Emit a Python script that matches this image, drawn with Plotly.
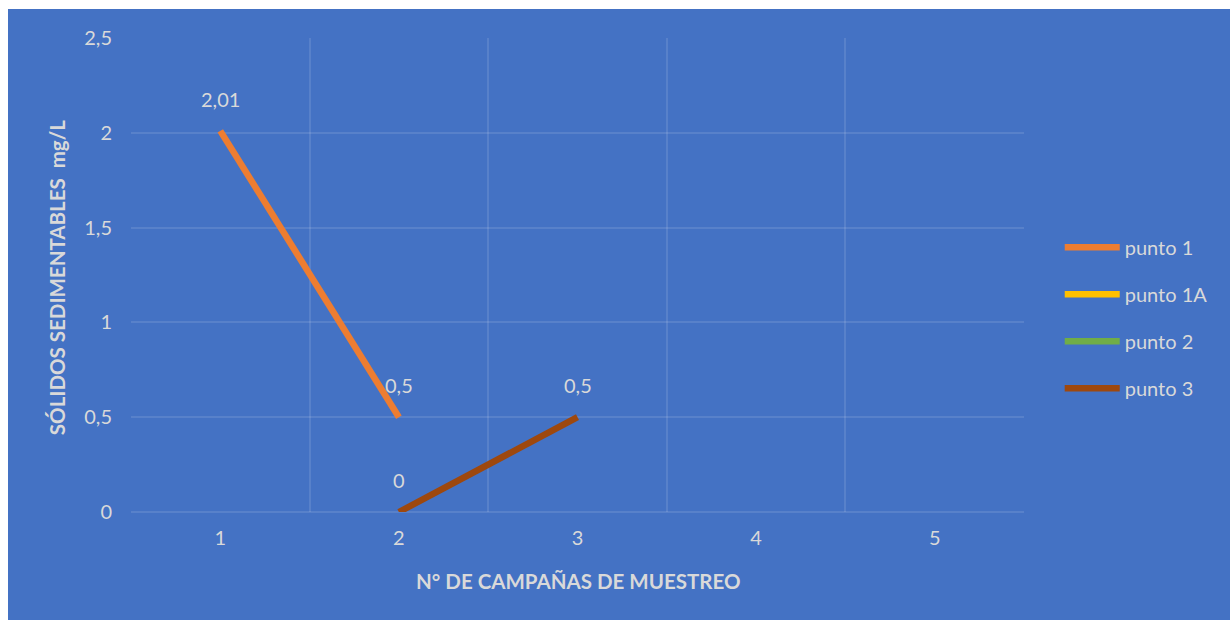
import plotly.graph_objects as go

campaigns = [1, 2, 3, 4, 5]
tick_labels = ["1", "2", "3", "4", "5"]
punto_1 = [2.01, 0.5, None, None, None]
punto_1A = [None, None, None, None, None]
punto_2 = [None, None, None, None, None]
punto_3 = [None, 0, 0.5, None, None]
y_ticks = [0, 0.5, 1, 1.5, 2, 2.5]
y_tick_labels = ["0", "0,5", "1", "1,5", "2", "2,5"]

series = [
    ("punto 1", punto_1, "#ED7D31"),
    ("punto 1A", punto_1A, "#FFC000"),
    ("punto 2", punto_2, "#70AD47"),
    ("punto 3", punto_3, "#9E480E"),
]

FONT = "Lato, 'Open Sans', 'DejaVu Sans', sans-serif"
TXT = "#D9D9D9"
BLUE = "#4472C4"
GRID = "rgba(255,255,255,0.11)"

fig = go.Figure()
for name, vals, color in series:
    fig.add_trace(go.Scatter(
        x=campaigns, y=vals, name=name, mode="lines",
        line=dict(color=color, width=6.5),
        legendgroup=name, connectgaps=False,
    ))

annotations = []
for name, vals, color in series:
    for xv, yv in zip(campaigns, vals):
        if yv is not None:
            annotations.append(dict(
                x=xv, y=yv, xref="x", yref="y",
                text=(f"{yv:g}").replace(".", ","),
                showarrow=False, yshift=32,
                font=dict(family=FONT, size=20, color=TXT),
            ))

annotations.append(dict(
    text="N° DE CAMPAÑAS DE MUESTREO", xref="paper", yref="paper",
    x=0.5, y=-0.145, yanchor="middle", showarrow=False,
    font=dict(family=FONT, size=20.5, color=TXT, weight="bold"),
))
annotations.append(dict(
    text="SÓLIDOS SEDIMENTABLES  mg/L", xref="paper", yref="paper",
    x=-0.082, y=0.495, xanchor="center", yanchor="middle", textangle=-90,
    showarrow=False,
    font=dict(family=FONT, size=20.5, color=TXT, weight="bold"),
))

fig.update_layout(
    width=1230, height=620,
    margin=dict(l=131, r=206, t=38, b=108),
    paper_bgcolor="white",
    plot_bgcolor=BLUE,
    separators=",.",
    showlegend=True,
    legend=dict(
        x=1.04, y=0.41, xanchor="left", yanchor="middle",
        font=dict(family=FONT, size=20, color=TXT),
        bgcolor="rgba(0,0,0,0)", tracegroupgap=18,
        itemwidth=55,
    ),
    annotations=annotations,
    shapes=[dict(
        type="rect", xref="paper", yref="paper",
        x0=-131/893 + 8/893, x1=1 + 206/893 + 0.01,
        y0=-108/474 - 0.01, y1=1 + 29/474,
        fillcolor=BLUE, line=dict(width=0), layer="below",
    )],
    xaxis=dict(
        range=[0.5, 5.5], tickvals=campaigns, ticktext=tick_labels,
        showgrid=False, zeroline=False, showline=False,
        ticks="outside", ticklen=8, tickcolor="rgba(0,0,0,0)",
        tickfont=dict(family=FONT, size=20, color=TXT),
        minor=dict(tick0=0.5, dtick=1, showgrid=True, gridcolor=GRID, gridwidth=1.5),
        fixedrange=True,
    ),
    yaxis=dict(
        range=[0, 2.5], tickvals=y_ticks, ticktext=y_tick_labels,
        showgrid=True, gridcolor=GRID, gridwidth=1.5,
        zeroline=True, zerolinecolor=GRID, zerolinewidth=1.5,
        showline=False, ticks="outside", ticklen=14, tickcolor="rgba(0,0,0,0)",
        tickfont=dict(family=FONT, size=20, color=TXT),
    ),
)

fig.write_html("out.html")
